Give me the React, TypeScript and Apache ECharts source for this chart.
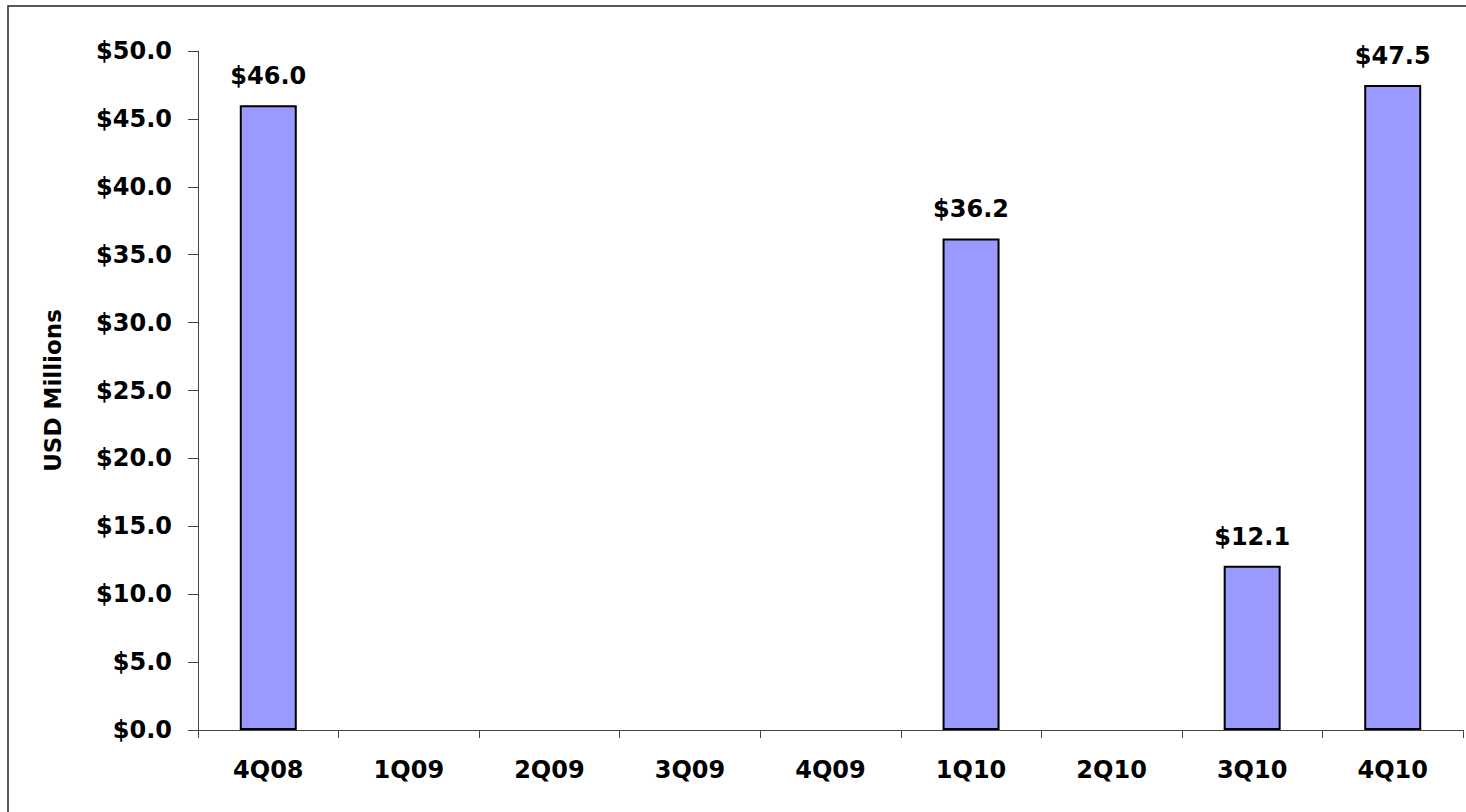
import React, { useEffect, useRef } from "react";
import * as echarts from "echarts";

const categories = ["4Q08", "1Q09", "2Q09", "3Q09", "4Q09", "1Q10", "2Q10", "3Q10", "4Q10"];
const values: (number | null)[] = [46.0, null, null, null, null, 36.2, null, 12.1, 47.5];
const yAxisTitle = "USD Millions";
const yMin = 0;
const yMax = 50;
const yInterval = 5;

const FONT = "'DejaVu Sans', sans-serif";

export default function App() {
  const ref = useRef<HTMLDivElement>(null);
  useEffect(() => {
    if (!ref.current) return;
    const chart = echarts.init(ref.current, undefined, { renderer: "svg" });
    chart.setOption({
      animation: false,
      backgroundColor: "#ffffff",
      grid: { left: 198, top: 51, right: 3, bottom: 82, containLabel: false },
      graphic: [
        {
          type: "rect",
          shape: { x: 8, y: 6, width: 1500, height: 900 },
          style: { fill: "none", stroke: "#222", lineWidth: 1.5 },
          silent: true,
          z: -1,
        },
      ],
      xAxis: {
        type: "category",
        data: categories,
        boundaryGap: true,
        axisLine: { show: true, lineStyle: { color: "#444", width: 1 } },
        axisTick: { show: true, length: 8, alignWithLabel: false, lineStyle: { color: "#444" } },
        axisLabel: {
          color: "#000",
          fontFamily: FONT,
          fontWeight: "bold",
          fontSize: 24,
          margin: 28,
          interval: 0,
        },
        splitLine: { show: false },
      },
      yAxis: {
        type: "value",
        min: yMin,
        max: yMax,
        interval: yInterval,
        name: yAxisTitle,
        nameLocation: "middle",
        nameRotate: 90,
        nameGap: 134,
        nameTextStyle: { color: "#000", fontFamily: FONT, fontWeight: "bold", fontSize: 23 },
        axisLine: { show: true, lineStyle: { color: "#444", width: 1 } },
        axisTick: { show: true, length: 10, inside: false, lineStyle: { color: "#444" } },
        axisLabel: {
          color: "#000",
          fontFamily: FONT,
          fontWeight: "bold",
          fontSize: 24,
          margin: 26,
          formatter: (v: number) => "$" + v.toFixed(1),
        },
        splitLine: { show: false },
      },
      series: [
        {
          type: "bar",
          data: values,
          barWidth: 57,
          itemStyle: { color: "#9999FF", borderColor: "#000", borderWidth: 2 },
          label: {
            show: true,
            position: "top",
            distance: 17,
            color: "#000",
            fontFamily: FONT,
            fontWeight: "bold",
            fontSize: 24,
            formatter: (p: any) => (p.value == null ? "" : "$" + Number(p.value).toFixed(1)),
          },
        },
      ],
    });
    return () => chart.dispose();
  }, []);
  return (
    <div
      ref={ref}
      style={{ position: "fixed", left: 0, top: 0, width: 1466, height: 812, background: "#fff" }}
    />
  );
}
